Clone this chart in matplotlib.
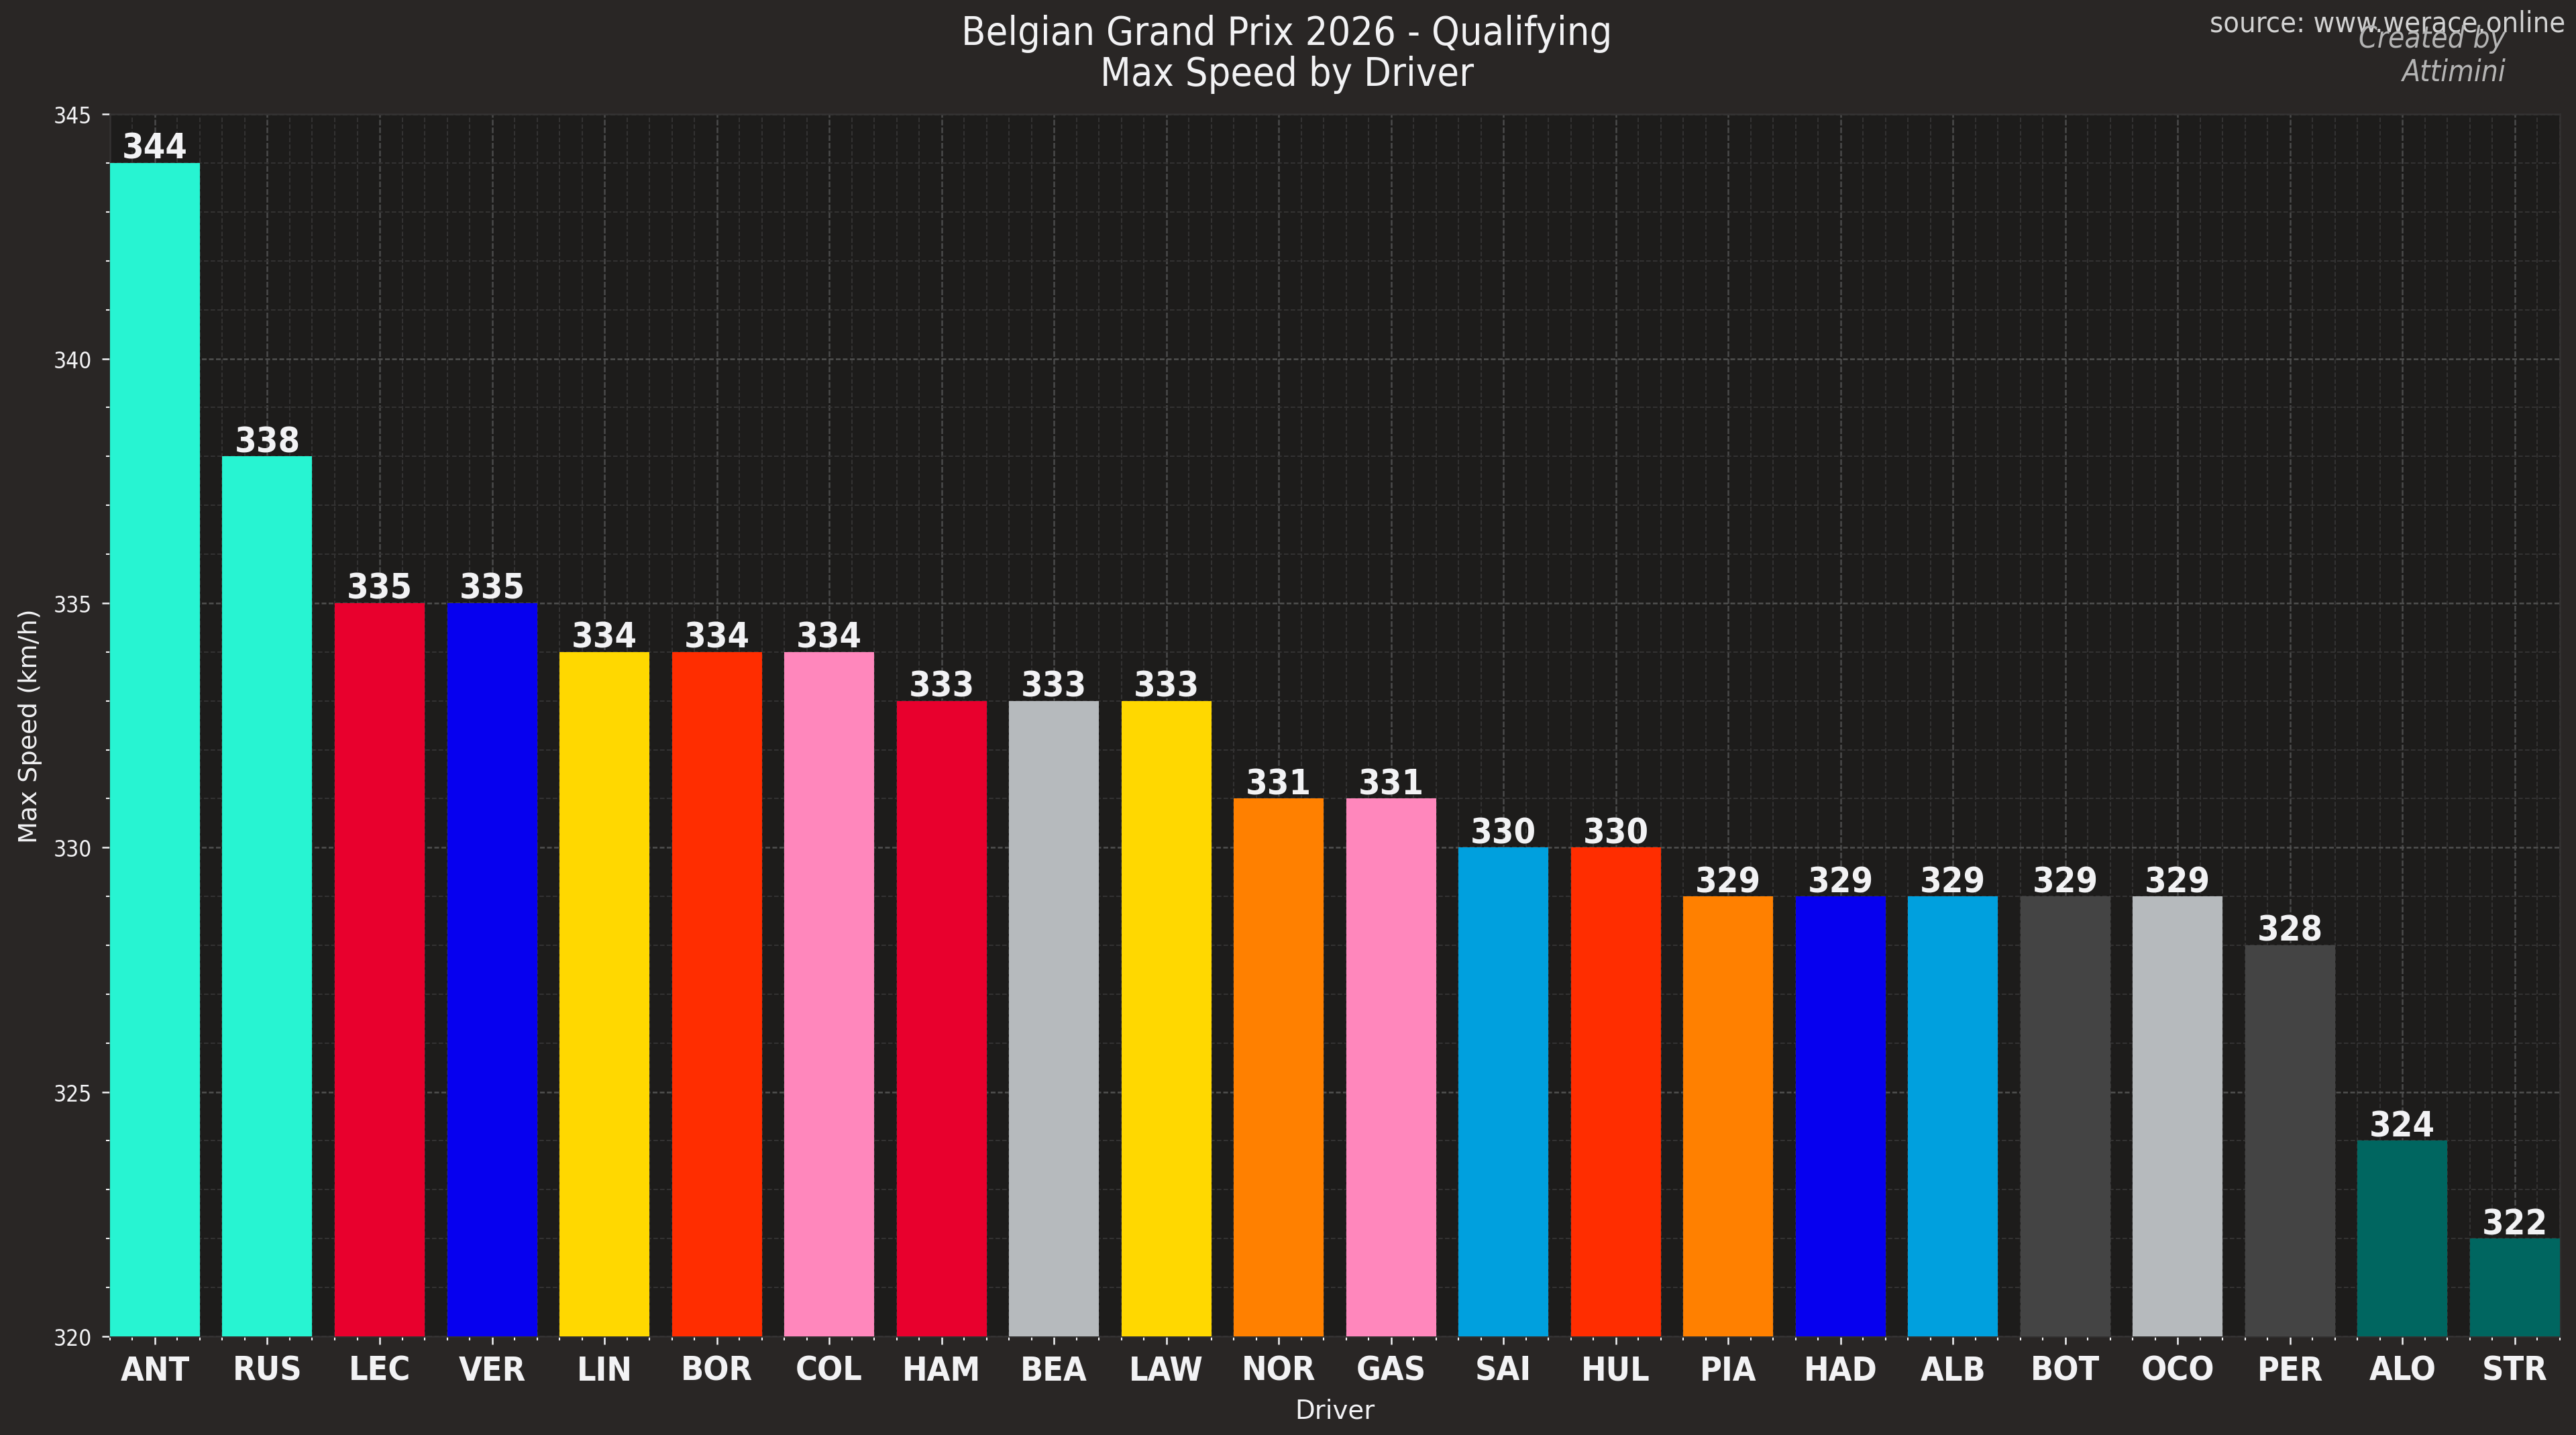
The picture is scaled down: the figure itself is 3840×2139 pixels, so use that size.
import os
import matplotlib
matplotlib.use("Agg")
import matplotlib.pyplot as plt
from matplotlib import font_manager as fm
from matplotlib.ticker import AutoMinorLocator, MultipleLocator

# ---------------- data ----------------
drivers = ["ANT", "RUS", "LEC", "VER", "LIN", "BOR", "COL", "HAM", "BEA", "LAW", "NOR",
           "GAS", "SAI", "HUL", "PIA", "HAD", "ALB", "BOT", "OCO", "PER", "ALO", "STR"]
speeds = [344, 338, 335, 335, 334, 334, 334, 333, 333, 333, 331,
          331, 330, 330, 329, 329, 329, 329, 329, 328, 324, 322]
bar_colors = ["#27F4D2", "#27F4D2", "#E8002D", "#0600EF", "#FFD800", "#FF2D00", "#FF87BC",
              "#E8002D", "#B6BABD", "#FFD800", "#FF8000", "#FF87BC", "#00A0DE", "#FF2D00",
              "#FF8000", "#0600EF", "#00A0DE", "#444444", "#B6BABD", "#444444", "#006660", "#006660"]
y_ticks = [320, 325, 330, 335, 340, 345]
title_line1 = "Belgian Grand Prix 2026 - Qualifying"
title_line2 = "Max Speed by Driver"

# ---------------- fonts ----------------
def find_font(*names):
    for n in names:
        for f in fm.fontManager.ttflist:
            if os.path.basename(f.fname) == n:
                return f.fname
    return None

cond_files = {
    "regular": find_font("DejaVuSansCondensed.ttf", "LiberationSansNarrow-Regular.ttf"),
    "bold": find_font("DejaVuSansCondensed-Bold.ttf", "LiberationSansNarrow-Bold.ttf"),
    "oblique": find_font("DejaVuSansCondensed-Oblique.ttf", "LiberationSansNarrow-Italic.ttf"),
}

def cfont(kind, size):
    path = cond_files.get(kind)
    if path:
        return fm.FontProperties(fname=path, size=size)
    return fm.FontProperties(family="DejaVu Sans",
                             weight="bold" if kind == "bold" else "normal",
                             style="oblique" if kind == "oblique" else "normal",
                             size=size)

# ---------------- style ----------------
fig_bg = "#292625"
ax_bg = "#1d1c1b"
txt = "#f2f2f4"

fig = plt.figure(figsize=(12.8, 7.1333), dpi=300, facecolor=fig_bg)
ax = fig.add_axes([0.0427, 0.0687, 0.9510, 0.8513])
ax.set_facecolor(ax_bg)

x = list(range(len(drivers)))
ax.bar(x, speeds, width=0.8, color=bar_colors, zorder=3)

ax.set_xlim(-0.4, len(drivers) - 0.6)
ax.set_ylim(320, 345)
ax.set_yticks(y_ticks)
ax.set_xticks(x)
ax.set_xticklabels(drivers)
ax.xaxis.set_minor_locator(AutoMinorLocator(5))
ax.yaxis.set_minor_locator(MultipleLocator(1))

ax.set_axisbelow(True)
ax.grid(which="major", axis="y", color="#505050", linestyle=(0, (2.8, 1.4)), linewidth=0.6, zorder=0)
ax.grid(which="major", axis="x", color="#4a4a4a", linestyle=(0, (3.4, 1.2)), linewidth=0.6, zorder=0)
ax.grid(which="minor", color="#333232", linestyle=(0, (3.2, 1.6)), linewidth=0.5, zorder=0)

for s in ax.spines.values():
    s.set_color("#333131")
    s.set_linewidth(0.6)

ax.tick_params(which="major", colors=txt, length=2.9, width=0.6)
ax.tick_params(which="minor", colors=txt, length=1.4, width=0.5)
ax.tick_params(axis="x", which="major", pad=3.5)

for lab in ax.get_xticklabels():
    lab.set_fontproperties(cfont("bold", 12))
    lab.set_color(txt)
for lab in ax.get_yticklabels():
    lab.set_fontproperties(cfont("regular", 8))
    lab.set_color(txt)

ax.set_ylabel("Max Speed (km/h)", color=txt, fontsize=9.2, family="DejaVu Sans")
ax.set_xlabel("Driver", color=txt, fontsize=9.3, family="DejaVu Sans")

for xi, v in zip(x, speeds):
    ax.annotate(f"{v}", xy=(xi, v), xytext=(0, 1.7), textcoords="offset points",
                ha="center", va="baseline", color=txt,
                fontproperties=cfont("bold", 12.5), zorder=5)

fig.text(0.4995, 1 - 67 / 2140, title_line1, ha="center", va="baseline",
         color=txt, fontproperties=cfont("regular", 14.2))
fig.text(0.4995, 1 - 128 / 2140, title_line2, ha="center", va="baseline",
         color=txt, fontproperties=cfont("regular", 14.2))

fig.text(0.9958, 1 - 48 / 2140, "source: www.werace.online", ha="right", va="baseline",
         color="#d2d2d2", fontproperties=cfont("regular", 10.4))
fig.text(0.9727, 1 - 121 / 2140, "Created by\nAttimini", ha="right", va="baseline",
         color="#b4b4b4", fontproperties=cfont("oblique", 10.6), multialignment="right")

fig.savefig("out.png", dpi=300, facecolor=fig_bg)
